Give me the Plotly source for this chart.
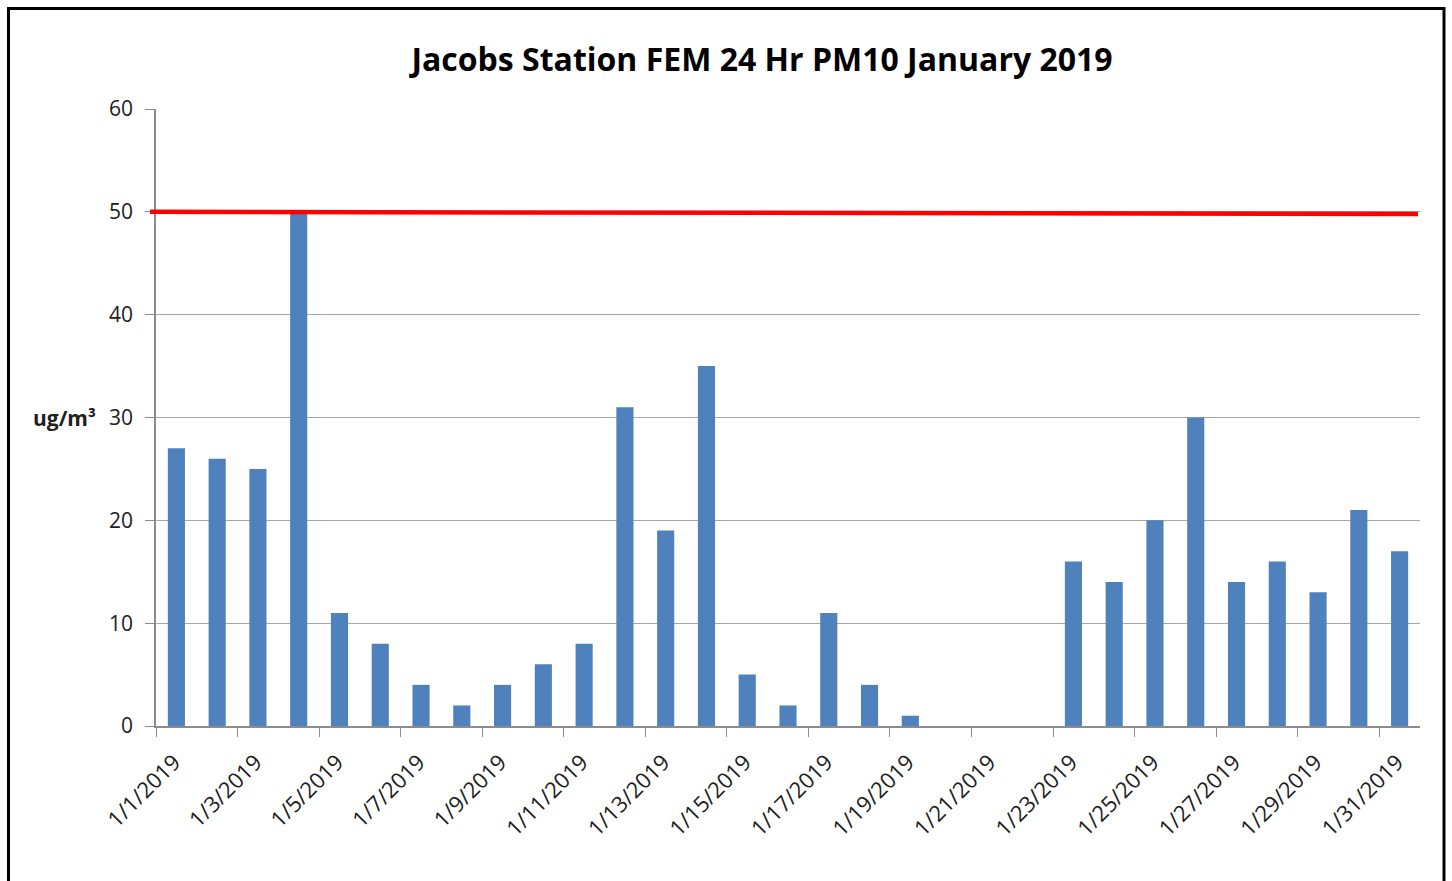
import plotly.graph_objects as go

# ---- data ----
dates = [f"2019-01-{d:02d}" for d in range(1, 32)]
pm10 = [27, 26, 25, 50, 11, 8, 4, 2, 4, 6, 8, 31, 19, 35, 5, 2, 11, 4, 1,
        0, 0, 0, 16, 14, 20, 30, 14, 16, 13, 21, 17]
THRESHOLD = 50
y_ticks = [0, 10, 20, 30, 40, 50, 60]
title_text = "Jacobs Station FEM 24 Hr PM10 January 2019"
y_label = "ug/m³"

W, H = 1452, 881
L, R, T, B = 156, 32, 109, 155
pw, ph = W - L - R, H - T - B

def px(x):
    return (x - L) / pw

def py(y):
    return (H - B - y) / ph

fig = go.Figure()
fig.add_trace(go.Bar(
    x=dates, y=pm10,
    xperiod=86400000, xperiodalignment="middle",
    marker=dict(color="#4f81bd", line=dict(width=0)),
    showlegend=False,
))

fig.update_layout(
    width=W, height=H,
    margin=dict(l=L, r=R, t=T, b=B),
    paper_bgcolor="white", plot_bgcolor="white",
    bargap=0.58,
    font=dict(family="Open Sans", color="#202020"),
    title=dict(text=f"<b>{title_text}</b>", x=px(762), xref="paper",
               xanchor="center", y=1 - 60 / H, yanchor="middle",
               font=dict(family="Open Sans", size=32, color="black")),
    xaxis=dict(
        type="date",
        range=["2019-01-01", "2019-02-01"],
        tick0="2019-01-01", dtick=2 * 86400000,
        tickformat="%-m/%-d/%Y", tickangle=-45,
        ticks="outside", ticklen=9, tickcolor="#8c8c8c",
        ticklabelshift=18, ticklabelstandoff=4,
        showline=True, linecolor="#8c8c8c", linewidth=1.5,
        showgrid=False, zeroline=False,
        tickfont=dict(family="Open Sans", size=22, color="#202020"),
    ),
    yaxis=dict(
        range=[0, 60], tickvals=y_ticks,
        ticks="outside", ticklen=9, tickcolor="#8c8c8c",
        ticklabelstandoff=8,
        showline=True, linecolor="#8c8c8c", linewidth=1.5,
        showgrid=True, gridcolor="#a6a6a6", gridwidth=1.2,
        zeroline=False,
        tickfont=dict(family="Open Sans", size=21, color="#202020"),
    ),
)

# threshold line
fig.add_shape(type="line", xref="paper", yref="y",
              x0=px(150), x1=px(1418), y0=THRESHOLD, y1=THRESHOLD - 0.2,
              line=dict(color="#ff0000", width=4.5))

# y axis unit label
fig.add_annotation(text=f"<b>{y_label}</b>", xref="paper", yref="y",
                   x=px(64), y=30, xanchor="center", yanchor="middle",
                   showarrow=False,
                   font=dict(family="Open Sans", size=21, color="#202020"))

# outer frame
fig.add_shape(type="rect", xref="paper", yref="paper",
              x0=px(8.5), x1=px(1444), y0=py(895), y1=py(8.5),
              line=dict(color="black", width=3), layer="above")

fig.write_html("out.html", config={"displayModeBar": False},
               post_script="document.body.style.margin='0';document.body.style.overflow='hidden';")
